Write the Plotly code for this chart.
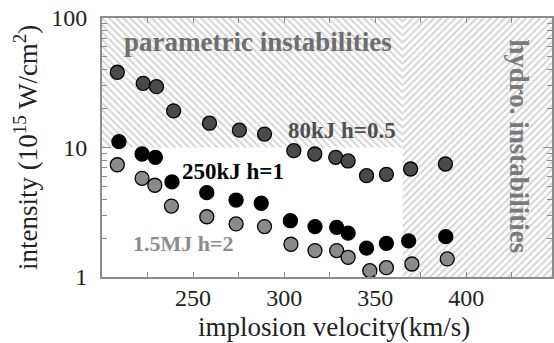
import math
import plotly.graph_objects as go

# implosion velocity (km/s) and laser intensity (10^15 W/cm^2) for three designs
v_80kJ = [208.4, 222.6, 229.9, 239.3, 259.0, 275.4, 289.2, 305.3, 316.8, 328.3, 335.1, 345.2, 356.1, 369.4, 388.5]
i_80kJ = [38.1, 31.3, 29.5, 19.2, 15.4, 13.6, 12.7, 9.45, 8.91, 8.40, 7.87, 6.06, 6.21, 6.82, 7.46]

v_250kJ = [209.3, 222.0, 229.3, 238.4, 257.5, 273.6, 287.4, 303.4, 316.9, 328.8, 335.1, 345.2, 356.1, 368.3, 388.7]
i_250kJ = [11.1, 8.91, 8.40, 5.42, 4.48, 3.93, 3.71, 2.72, 2.45, 2.42, 2.18, 1.67, 1.82, 1.90, 2.05]

v_15MJ = [208.4, 222.0, 229.0, 238.1, 257.5, 273.6, 289.2, 303.7, 316.9, 328.8, 335.1, 347.0, 356.1, 370.1, 389.5]
i_15MJ = [7.36, 5.78, 5.11, 3.53, 2.92, 2.57, 2.45, 1.79, 1.60, 1.60, 1.42, 1.12, 1.18, 1.26, 1.38]

x_ticks = [250, 300, 350, 400]
y_ticks = [1, 10, 100]
y_tick_text = ["1", "10", "100"]

# limits of the instability zones
v_min, v_max = 200, 447
v_hydro = 365
i_param = 10
i_min, i_max = 1, 100

SERIF = "Liberation Serif"
AXIS_GREY = "#8c8c8c"
HATCH = "#a8a8a8"

fig = go.Figure()

# parametric instabilities zone (high intensity)
fig.add_trace(go.Scatter(
    x=[v_min, v_hydro, v_hydro, v_min, v_min],
    y=[i_param, i_param, i_max, i_max, i_param],
    mode="lines", line=dict(width=0), fill="toself",
    fillcolor="rgba(0,0,0,0)",
    fillpattern=dict(shape="\\", fgcolor=HATCH, bgcolor="white", size=5, solidity=0.4),
    hoverinfo="skip", showlegend=False,
))
# hydro instabilities zone (high velocity)
fig.add_trace(go.Scatter(
    x=[v_hydro, v_max + 5, v_max + 5, v_hydro, v_hydro],
    y=[i_min, i_min, i_max, i_max, i_min],
    mode="lines", line=dict(width=0), fill="toself",
    fillcolor="rgba(0,0,0,0)",
    fillpattern=dict(shape="/", fgcolor=HATCH, bgcolor="white", size=5, solidity=0.4),
    hoverinfo="skip", showlegend=False,
))

series = [
    (v_80kJ, i_80kJ, "#4a4a4a", "80kJ h=0.5"),
    (v_250kJ, i_250kJ, "#000000", "250kJ h=1"),
    (v_15MJ, i_15MJ, "#8a8a8a", "1.5MJ h=2"),
]
for vx, iy, col, name in series:
    fig.add_trace(go.Scatter(
        x=vx, y=iy, mode="markers", name=name,
        marker=dict(size=14, color=col, line=dict(color="black", width=1.3)),
        showlegend=False,
    ))

# in-plot labels (annotation y on a log axis is given as log10)
labels = [
    ("parametric instabilities", 285.8, 65.3, "#6e6e6e", 27, 0),
    ("80kJ h=0.5", 331.7, 13.65, "#4f4f4f", 23, 0),
    ("250kJ h=1", 271.8, 6.50, "#000000", 23, 0),
    ("1.5MJ h=2", 244.8, 1.82, "#8c8c8c", 22, 0),
    ("hydro. instabilities", 428.4, 10.2, "#7a7a7a", 27, 90),
]
for text, lx, ly, col, fs, ang in labels:
    fig.add_annotation(
        x=lx, y=math.log10(ly), yref="y", xref="x", text=f"<b>{text}</b>", showarrow=False,
        textangle=ang, xanchor="center", yanchor="middle",
        font=dict(family=SERIF, size=fs, color=col),
    )

# axis titles
fig.add_annotation(
    xref="paper", yref="paper", x=-0.170, y=0.50, textangle=-90,
    text="intensity (10<sup>15</sup> W/cm<sup>2</sup>)", showarrow=False,
    xanchor="center", yanchor="middle",
    font=dict(family=SERIF, size=27, color="#222222"),
)
fig.add_annotation(
    xref="paper", yref="paper", x=0.515, y=-0.193,
    text="implosion velocity(km/s)", showarrow=False,
    xanchor="center", yanchor="middle",
    font=dict(family=SERIF, size=27, color="#222222"),
)

minor_y = [k * d for d in (1, 10) for k in range(2, 10)]
minor_x = [225, 275, 325, 375, 425]

fig.update_layout(
    width=554, height=343,
    margin=dict(l=102, r=0, t=18, b=66),
    paper_bgcolor="white", plot_bgcolor="white",
    xaxis=dict(
        range=[v_min, v_max], tickmode="array", tickvals=x_ticks,
        ticks="inside", ticklen=5, tickwidth=1.2, tickcolor=AXIS_GREY,
        showline=True, linecolor=AXIS_GREY, linewidth=2, mirror="allticks",
        showgrid=False, zeroline=False, ticklabelstandoff=-2,
        tickfont=dict(family=SERIF, size=24, color="#222222"),
        minor=dict(tickmode="array", tickvals=minor_x, ticks="inside", ticklen=5,
                   tickwidth=1.2, tickcolor=AXIS_GREY, showgrid=False),
    ),
    yaxis=dict(
        type="log", range=[0, 2], tickmode="array", tickvals=y_ticks, ticktext=y_tick_text,
        ticks="inside", ticklen=9, tickwidth=1.2, tickcolor=AXIS_GREY,
        showline=True, linecolor=AXIS_GREY, linewidth=2, mirror="allticks",
        showgrid=False, zeroline=False, ticklabelstandoff=8,
        tickfont=dict(family=SERIF, size=24, color="#222222"),
        minor=dict(tickmode="array", tickvals=minor_y, ticks="inside", ticklen=5,
                   tickwidth=1.2, tickcolor=AXIS_GREY, showgrid=False),
    ),
)

fig.write_html("out.html")
